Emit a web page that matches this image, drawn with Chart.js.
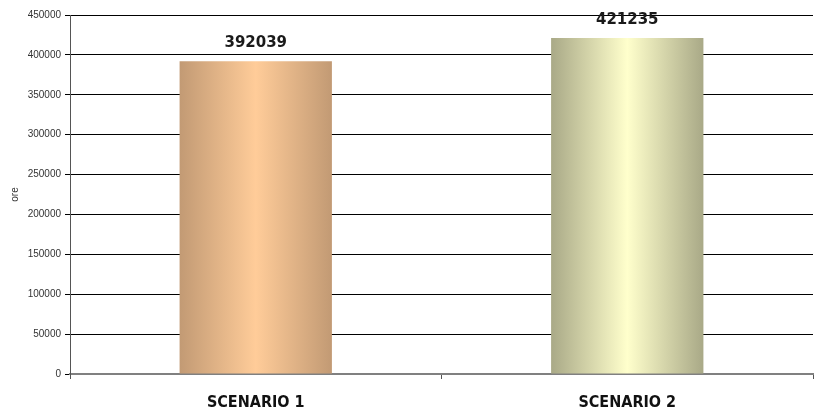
<!DOCTYPE html>
<html>
<head>
<meta charset="utf-8">
<script src="https://cdn.jsdelivr.net/npm/chart.js@4/dist/chart.umd.min.js"></script>
<style>
  html, body { margin: 0; padding: 0; background: #fff; }
  #wrap { width: 814px; height: 410px; position: relative; }
</style>
</head>
<body>
<div id="wrap"><canvas id="c" width="814" height="410"></canvas></div>
<script>
const categories = ["SCENARIO 1", "SCENARIO 2"];
const values = [392039, 421235];
const edgeColors = ["#C29A74", "#A9A987"];
const centerColors = ["#FFCC99", "#FFFFCC"];
const yTitle = "ore";

const barPct = 0.41;

function barGradient(ctx) {
  const chart = ctx.chart;
  const i = ctx.dataIndex;
  const xs = chart.scales && chart.scales.x;
  if (!xs || !chart.chartArea || i === undefined) return centerColors[i || 0];
  const cx = xs.getPixelForValue(i);
  const catW = xs.width / categories.length;
  const half = catW * barPct / 2;
  const g = chart.ctx.createLinearGradient(cx - half, 0, cx + half, 0);
  g.addColorStop(0, edgeColors[i]);
  g.addColorStop(0.5, centerColors[i]);
  g.addColorStop(1, edgeColors[i]);
  return g;
}

const valueLabels = {
  id: 'valueLabels',
  afterDatasetsDraw(chart) {
    const c = chart.ctx;
    const meta = chart.getDatasetMeta(0);
    c.save();
    c.font = 'bold 15px "DejaVu Sans"';
    c.fillStyle = '#1a1a1a';
    c.textAlign = 'center';
    c.textBaseline = 'middle';
    meta.data.forEach((el, i) => {
      c.fillText(String(values[i]), el.x, el.y - 18);
    });
    c.restore();
  }
};

new Chart(document.getElementById('c'), {
  type: 'bar',
  data: {
    labels: categories,
    datasets: [{
      data: values,
      backgroundColor: barGradient,
      borderWidth: 0,
      categoryPercentage: 1,
      barPercentage: barPct
    }]
  },
  options: {
    responsive: false,
    animation: false,
    layout: { padding: { top: 15, right: 1, left: 0, bottom: 0 } },
    plugins: { legend: { display: false }, tooltip: { enabled: false } },
    scales: {
      x: {
        grid: { display: true, drawOnChartArea: false, drawTicks: true, tickLength: 5, color: '#555', offset: true },
        border: { display: true, color: '#808080', width: 2 },
        ticks: { font: { family: '"DejaVu Sans Condensed", "DejaVu Sans"', size: 16, weight: 'bold' }, color: '#111', padding: 14 },
        afterFit(s) { s.height = 36; }
      },
      y: {
        min: 0, max: 450000,
        grid: { color: '#000', lineWidth: 1, tickLength: 5, drawTicks: true },
        border: { display: true, color: '#555', width: 1 },
        ticks: { stepSize: 50000, font: { family: '"Liberation Sans"', size: 10 }, color: '#333', padding: 4,
                 callback: (v) => String(v) },
        title: { display: true, text: yTitle, font: { family: '"Liberation Sans"', size: 10 }, color: '#333', padding: { top: 9, bottom: 0 } },
        afterFit(s) { s.width = 70; }
      }
    }
  },
  plugins: [valueLabels]
});
</script>
</body>
</html>
